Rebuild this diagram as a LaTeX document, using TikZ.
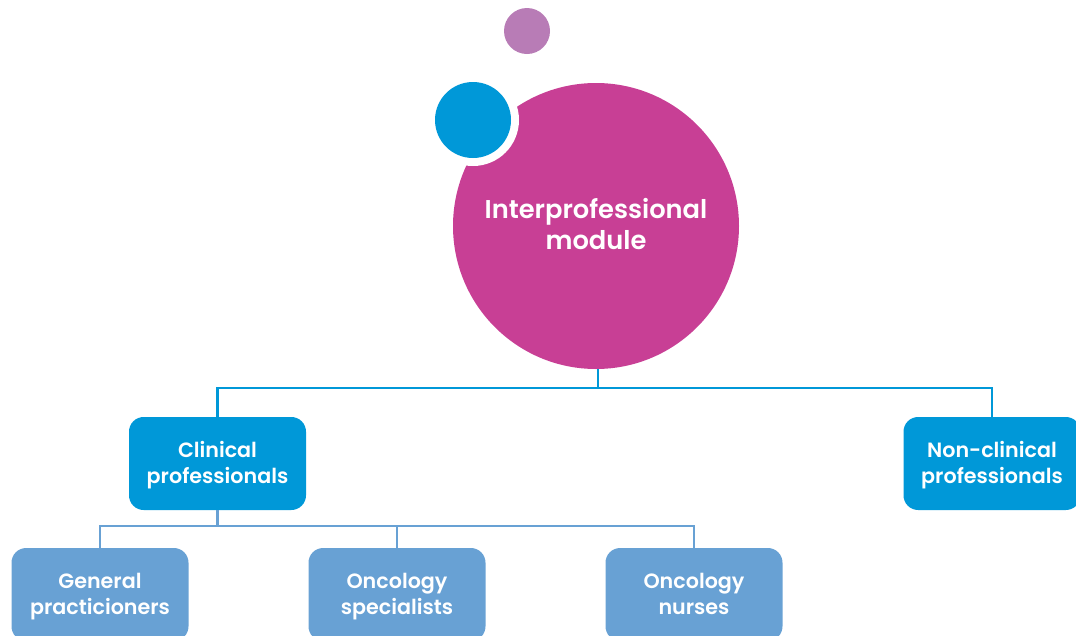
\documentclass[tikz,border=0pt]{standalone}
\usepackage{fontspec}
\setmainfont{Poppins}[BoldFont={Poppins SemiBold}]
\definecolor{magen}{HTML}{C83F95}
\definecolor{bblue}{HTML}{0098D8}
\definecolor{lblue}{HTML}{68A1D4}
\definecolor{lpurp}{HTML}{B87CB6}
\newcommand\boxtop{\rule{0pt}{17pt}}
\tikzset{
  topbox/.style={fill=bblue, rounded corners=11pt, minimum width=132.75pt, minimum height=69.75pt, align=center, text=white, font=\fontsize{15.5}{19.5}\selectfont\bfseries, inner sep=0pt},
  subbox/.style={topbox, fill=lblue},
  link/.style={draw=bblue, line width=2.2pt},
  sublink/.style={draw=lblue, line width=2.2pt},
}
\begin{document}
\begin{tikzpicture}[x=0.75pt,y=-0.75pt]
\useasboundingbox (0,0) rectangle (1076,636);
\clip (0,0) rectangle (1076,636);
% decorative circles
\node (purp) [circle, fill=lpurp, minimum size=34.5pt, inner sep=0pt] at (527,31) {};
\node (main) [circle, fill=magen, minimum size=214.5pt, inner sep=0pt, text=white, align=center, font=\fontsize{19.3}{22.8}\selectfont\bfseries] at (596,226) {\rule{0pt}{19pt}Interprofessional\\module\strut};
\node (ring) [circle, fill=white, minimum size=69pt, inner sep=0pt] at (473,120) {};
\node (dot) [circle, fill=bblue, minimum size=57pt, inner sep=0pt] at (473,120) {};
% boxes
\node (clin) [topbox] at (217.5,463.5) {\boxtop Clinical\\professionals\strut};
\node (non) [topbox] at (992,463.5) {\boxtop Non-clinical\\professionals\strut};
\node (gp) [subbox] at (100,594.5) {\boxtop General\\practicioners\strut};
\node (spec) [subbox] at (397,594.5) {\boxtop Oncology\\specialists\strut};
\node (nur) [subbox] at (694,594.5) {\boxtop Oncology\\nurses\strut};
% connectors
\coordinate (j1) at (598,388);
\coordinate (j2) at (217.5,526);
\draw[link] (main.south -| j1) -- (j1);
\draw[link] (clin.north) |- (j1) -| (non.north);
\draw[sublink] (clin.south) -- (j2);
\draw[sublink] (gp.north) |- (j2) -| (nur.north);
\draw[sublink] (spec.north) -- (spec.north |- j2);
\end{tikzpicture}
\end{document}
